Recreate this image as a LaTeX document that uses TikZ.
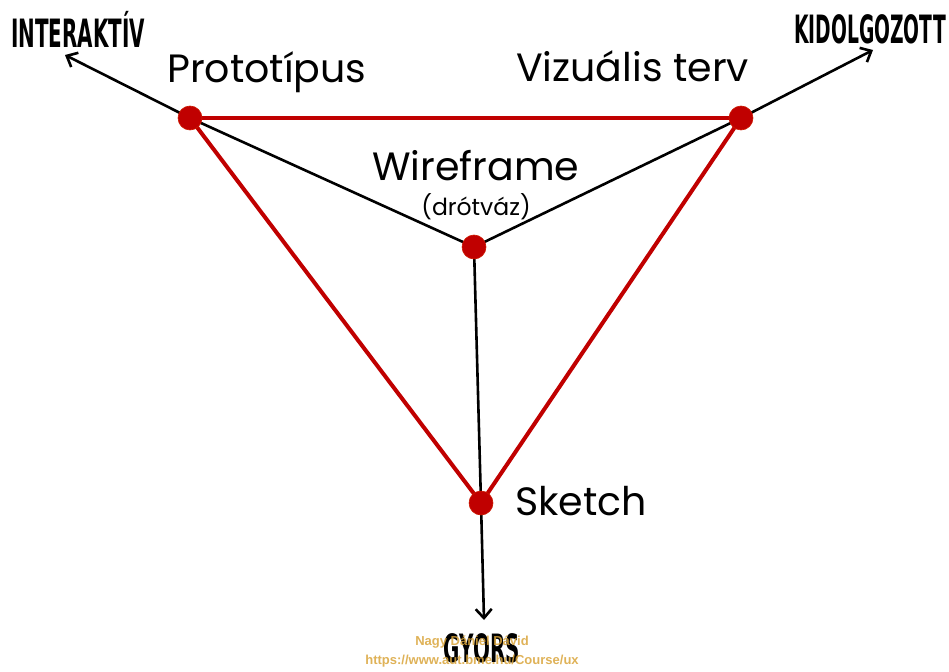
\documentclass[tikz,border=0pt]{standalone}
\usepackage{fontspec}
\usepackage{graphicx}
\setmainfont{Poppins}
\newfontfamily\headfont{DejaVu Sans}
\newfontfamily\wmfont{Liberation Sans}
\usetikzlibrary{arrows.meta}
\definecolor{dotred}{HTML}{C00000}
\definecolor{wmcol}{HTML}{D9A43A}
\tikzset{
  redline/.style={draw=dotred, line width=4pt},
  blackline/.style={draw=black, line width=2.6pt},
  arr/.style={blackline, -{Straight Barb[length=9pt,width=16pt,line width=2.6pt]}},
  dotnode/.style={circle, fill=dotred, draw=dotred!80!orange, line width=0.6pt, minimum size=24pt, inner sep=0pt},
  lbl/.style={font=\fontsize{39.5}{42}\selectfont, inner sep=0pt, anchor=base west},
  head/.style={font=\headfont\bfseries\fontsize{39}{42}\selectfont, inner sep=0pt},
  wm/.style={font=\wmfont\bfseries\fontsize{13}{14}\selectfont, text=wmcol, inner sep=0pt, opacity=0.85}
}
\begin{document}
\begin{tikzpicture}[x=1pt,y=-1pt]
\useasboundingbox (0,0) rectangle (949,671);
% coordinates
\coordinate (P) at (190,118);
\coordinate (V) at (741,118);
\coordinate (W) at (474,247);
\coordinate (S) at (481,503);
\coordinate (endI) at (65,55);
\coordinate (endK) at (873,50);
\coordinate (endG) at (484,620);
% black lines
\draw[blackline] (P) -- (W);
\draw[blackline] (V) -- (W);
\draw[blackline] (W) -- (S);
\draw[arr] (P) -- (endI);
\draw[arr] (V) -- (endK);
\draw[arr] (S) -- (endG);
% red triangle
\draw[redline] (P) -- (V);
\draw[redline] (P) -- (S);
\draw[redline] (V) -- (S);
% dots
\node[dotnode] (dP) at (P) {};
\node[dotnode] (dV) at (V) {};
\node[dotnode] (dW) at (W) {};
\node[dotnode] (dS) at (S) {};
% labels
\node[lbl] (tP) at (167,83) {Prototípus};
\node[lbl] (tV) at (516,82) {Vizuális terv};
\node[lbl] (tW) at (372,180) {Wireframe};
\node[font=\fontsize{23.5}{25}\selectfont, inner sep=0pt, anchor=base] (tD) at (476,215) {(drótváz)};
\node[lbl] (tS) at (515,515) {Sketch};
% headings
\node[head] (hI) at (78,29) {\scalebox{0.51}[1]{INTERAKTÍV}};
\node[head] (hK) at (870,29) {\scalebox{0.48}[1]{KIDOLGOZOTT}};
\node[head] (hG) at (482,648) {\scalebox{0.51}[1]{GYORS}};
% watermark
\node[wm] (w1) at (472,642) {Nagy Dániel Dávid};
\node[wm] (w2) at (472,661) {https://www.aut.bme.hu/Course/ux};
\end{tikzpicture}
\end{document}
